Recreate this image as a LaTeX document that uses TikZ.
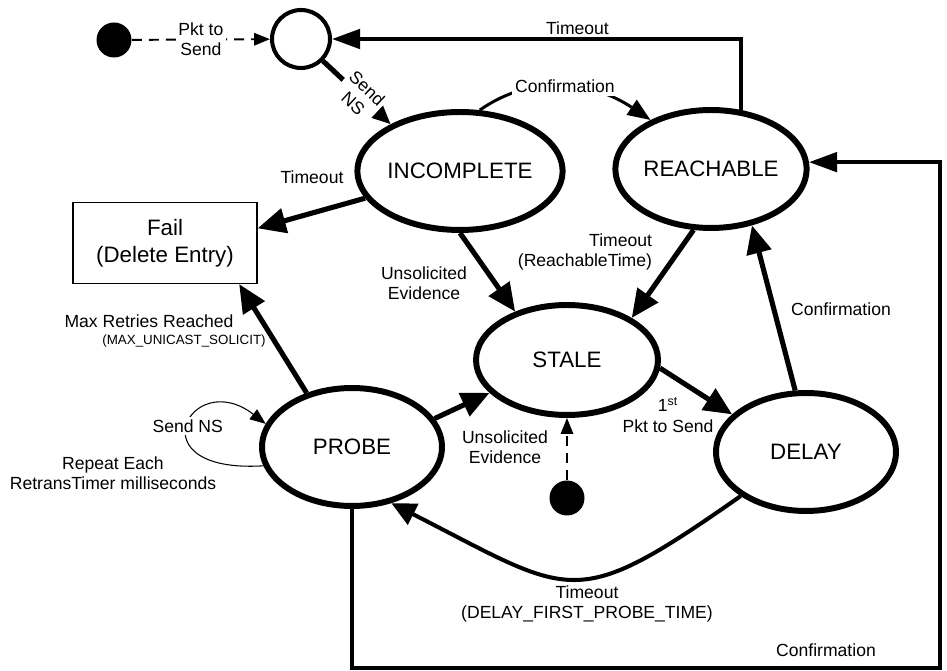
\documentclass[tikz,border=0pt]{standalone}
\usepackage{fontspec}
\setmainfont{Liberation Sans}
\usetikzlibrary{positioning,arrows.meta,shapes.geometric}

\tikzset{
  state/.style={ellipse, draw, line width=3.4pt, minimum width=3.6cm, minimum height=2.36cm,
    inner sep=0pt, font=\fontsize{12.7}{15.4}\selectfont},
  failbox/.style={rectangle, draw, line width=0.7pt, minimum width=3.68cm, minimum height=1.62cm,
    align=center, font=\fontsize{12.7}{15.4}\selectfont},
  pending/.style={circle, draw, line width=2.3pt, minimum size=1.16cm, inner sep=0pt},
  blackdot/.style={circle, fill=black, minimum size=0.7cm, inner sep=0pt},
  lbl/.style={font=\fontsize{10}{11.6}\selectfont, align=center, inner sep=1.5pt},
  smalllbl/.style={font=\fontsize{7.6}{9}\selectfont, inner sep=1pt},
  trans/.style={line width=2.9pt, -{Triangle[length=16pt,width=14pt]}},
  midline/.style={line width=2.3pt, -{Triangle[length=16pt,width=11pt]}},
  curveline/.style={line width=2.3pt, -{Triangle[length=14pt,width=13pt]}},
  arcline/.style={line width=1.7pt, -{Triangle[length=13pt,width=10pt]}},
  loopline/.style={line width=0.6pt, -{Triangle[length=9pt,width=7pt]}},
  dashline/.style={line width=1.1pt, dash pattern=on 5.7pt off 4pt, -{Triangle[length=9pt,width=7pt]}},
}

\begin{document}
\begin{tikzpicture}[x=0.02cm, y=-0.02cm]
  \useasboundingbox (0,0) rectangle (947,671);

  % states
  \node[state] (inc) at (460,171) {INCOMPLETE};
  \node[state] (reach) at (711,169) {REACHABLE};
  \node[state, minimum width=3.64cm, minimum height=2.2cm] (stale) at (567,360) {STALE};
  \node[state] (probe) at (352,447) {PROBE};
  \node[state] (delay) at (806,452) {DELAY};
  \node[failbox] (fail) at (165,243) {Fail\\(Delete Entry)};
  \node[pending] (new) at (301,39) {};
  \node[blackdot] (start) at (114,40) {};
  \node[blackdot] (entry) at (567,498) {};
  \coordinate (corner) at (940,668);

  % transitions
  \draw[dashline] (start) -- node[lbl, fill=white] (lPkt) {Pkt to\\Send} (new);
  \draw[trans] (new.-45) -- node[lbl, sloped, fill=white, pos=0.55] (lSendNS) {Send\\NS} (inc.146);
  \draw[midline] (reach.63) |- node[lbl, above, pos=0.7] (lTop) {Timeout} (new.east);
  \draw[arcline] (inc.72) to[out=35, in=146]
    node[lbl, fill=white, pos=0.5] (lConfArc) {Confirmation} (reach.141);
  \draw[trans] (inc.196) -- (fail.9);
  \draw[trans] (inc.south) -- (stale.137);
  \draw[trans] (reach.254) -- (stale.33);
  \draw[trans] (stale.-5) -- (delay.153);
  \draw[trans] (delay.100) -- (reach.-54);
  \draw[trans] (probe.19) -- (stale.203);
  \draw[trans] (probe.130) -- (fail.-29);
  \draw[loopline] (probe.192) .. controls +(-130,8) and +(-75,-58) .. (probe.165)
    node[lbl, fill=white, pos=0.5] (lLoop) {Send NS};
  \draw[curveline] (delay.214) to[out=215, in=-27, looseness=1.5] (probe.-55);
  \draw[midline] (probe.south) |- (corner) |- (reach.4);
  \draw[dashline] (entry) -- (stale);

  % labels
  \node[lbl] (lIncFail) at (312,177) {Timeout};
  \node[lbl] (lIncStale) at (424,283) {Unsolicited\\Evidence};
  \node[lbl, anchor=east, align=right] (lReachStale) at (655,252) {Timeout\\(ReachableTime)};
  \node[lbl] (lStaleDelay) at (668,415) {1\textsuperscript{st}\\Pkt to Send};
  \node[lbl] (lDelayReach) at (841,309) {Confirmation};
  \node[lbl] (lProbeStale) at (505,447) {Unsolicited\\Evidence};
  \node[lbl] (lMax) at (149,321) {Max Retries Reached};
  \node[smalllbl] (lMaxParam) at (184,341) {(MAX\_UNICAST\_SOLICIT)};
  \node[lbl] (lRepeat) at (113,473) {Repeat Each\\RetransTimer milliseconds};
  \node[lbl] (lDelayProbe) at (587,604) {Timeout\\(DELAY\_FIRST\_PROBE\_TIME)};
  \node[lbl] (lBottom) at (826,650) {Confirmation};
\end{tikzpicture}
\end{document}
